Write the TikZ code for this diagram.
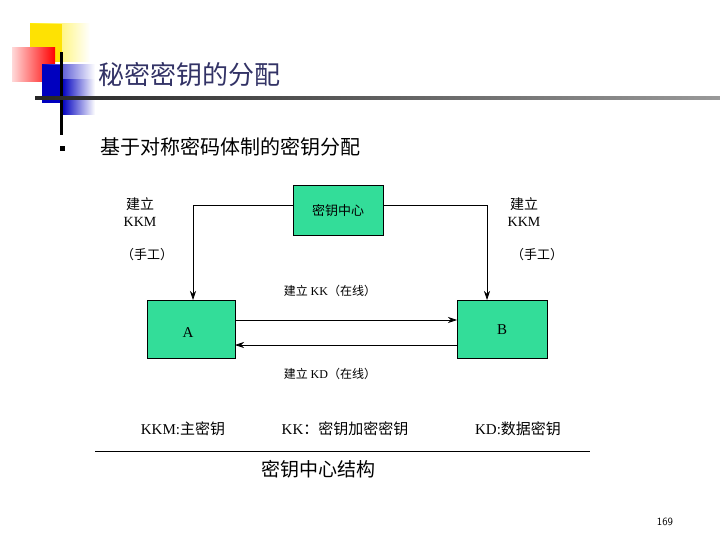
\documentclass[tikz,border=0pt]{standalone}
\usepackage{fontspec}
\setmainfont{Liberation Serif}
\newfontfamily\cjk{Noto Sans CJK SC}
\usetikzlibrary{arrows.meta}
\definecolor{boxg}{HTML}{33DD99}
\definecolor{ttl}{HTML}{333366}
\tikzset{
  px/.style={x=1pt,y=-1pt},
  box/.style={draw,fill=boxg,inner sep=0pt,anchor=north west},
  lbl/.style={font=\cjk\fontsize{13}{16}\selectfont,align=center,inner sep=0pt},
  conn/.style={-{Stealth[length=9pt,width=6pt]},line width=0.7pt}
}
\begin{document}
\begin{tikzpicture}[px]
\useasboundingbox (0,0) rectangle (720,540);
% decoration
\shade[left color=yellow!85!orange,right color=white] (30,24) rectangle (90,62);
\fill[yellow!85!orange] (30,24) rectangle (62,62);
\shade[left color=red!15,right color=red] (12,48) rectangle (55,82);
\shade[left color=blue!75!black,right color=white] (42,65) rectangle (95,103);
\fill[blue!75!black] (42,65) rectangle (62,103);
\shade[left color=blue!75!black,right color=white] (62,80) rectangle (95,115);
\fill[black] (59.5,52) rectangle (62.5,135);
\shade[left color=black!85,right color=black!40] (35,96.5) rectangle (720,99.5);
\node[anchor=west,text=ttl,font=\cjk\fontsize{26}{28}\selectfont,inner sep=0pt] (title) at (98,75) {秘密密钥的分配};
\node[fill=black,minimum size=5pt,inner sep=0pt] (bul) at (62,149) {};
\node[anchor=west,font=\cjk\fontsize{20}{22}\selectfont,inner sep=0pt] (sub) at (100,147) {基于对称密码体制的密钥分配};
% boxes
\node[box,minimum width=90pt,minimum height=50pt] (kc) at (293,185) {};
\node[lbl] at (kc.center) {密钥中心};
\node[box,minimum width=88pt,minimum height=58pt] (A) at (147,300) {};
\node[inner sep=0pt,font=\fontsize{15}{17}\selectfont] at (188,333) {A};
\node[box,minimum width=90pt,minimum height=58pt] (B) at (457,300) {};
\node[inner sep=0pt,font=\fontsize{15}{17}\selectfont] at (502,330) {B};
\coordinate (kcl) at (293,205);
\coordinate (kcr) at (383,205);
\draw[conn] (kcl) -| (193,300);
\draw[conn] (kcr) -| (487,300);
\draw[conn] (235,320) -- (457,320);
\draw[conn] (457,345) -- (235,345);
% labels
\node[lbl,font=\cjk\fontsize{14}{17}\selectfont] (l1) at (140,212) {建立\\\rmfamily KKM};
\node[lbl] (l2) at (147,255) {（手工）};
\node[lbl,font=\cjk\fontsize{14}{17}\selectfont] (l3) at (524,212) {建立\\\rmfamily KKM};
\node[lbl] (l4) at (537,255) {（手工）};
\node[lbl,font=\cjk\fontsize{12}{14}\selectfont] (l5) at (330,291) {建立 {\rmfamily KK}（在线）};
\node[lbl,font=\cjk\fontsize{12}{14}\selectfont] (l6) at (330,374) {建立 {\rmfamily KD}（在线）};
\node[lbl,font=\cjk\fontsize{15}{17}\selectfont] (k1) at (183,429) {{\rmfamily KKM:}主密钥};
\node[lbl,font=\cjk\fontsize{15}{17}\selectfont] (k2) at (345,429) {{\rmfamily KK}：密钥加密密钥};
\node[lbl,font=\cjk\fontsize{15}{17}\selectfont] (k3) at (518,429) {{\rmfamily KD:}数据密钥};
\draw[line width=0.6pt] (95,451) -- (590,451);
\node[lbl,font=\cjk\fontsize{19}{21}\selectfont] (cap) at (318,469) {密钥中心结构};
\node[inner sep=0pt,font=\sffamily\fontsize{11}{13}\selectfont] (pg) at (665,522) {169};
\end{tikzpicture}
\end{document}
